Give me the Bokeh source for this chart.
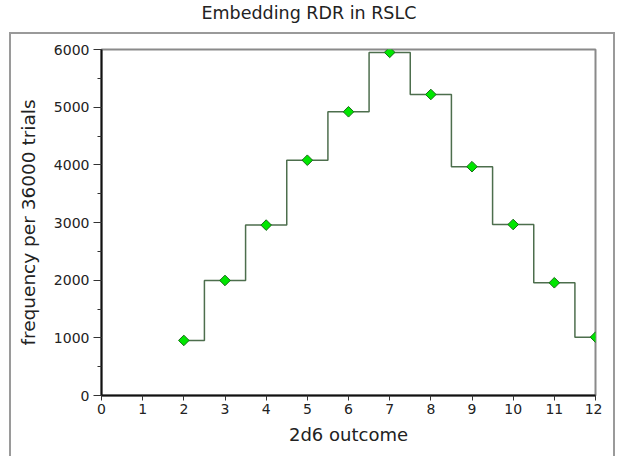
import numpy as np
from bokeh.plotting import figure
from bokeh.models import SingleIntervalTicker, Title, InlineStyleSheet
from bokeh.embed import file_html
from bokeh.resources import INLINE

outcomes = [2, 3, 4, 5, 6, 7, 8, 9, 10, 11, 12]
frequency = [955, 1995, 2955, 4080, 4920, 5950, 5220, 3968, 2965, 1955, 1012]
title_text = "Embedding RDR in RSLC"
x_label = "2d6 outcome"
y_label = "frequency per 36000 trials"

FONT = "DejaVu Sans"

p = figure(width=602, height=448, x_range=(0, 12), y_range=(0, 6000),
           output_backend="svg", toolbar_location=None,
           min_border_left=101, min_border_right=7, min_border_top=49,
           min_border_bottom=53)
p.title = None
spacer = Title(text=" ", text_font_size="1px", standoff=20)
p.add_layout(spacer, "above")
t = Title(text=title_text, align="left", vertical_align="top", text_font=FONT,
          text_font_size="17.5px", text_font_style="normal", text_color="#222222",
          offset=100, standoff=4)
p.add_layout(t, "above")

p.xgrid.visible = False
p.ygrid.visible = False
p.outline_line_color = "#8a8a8a"
p.outline_line_width = 2

p.xaxis.ticker = SingleIntervalTicker(interval=1, num_minor_ticks=0)
p.yaxis.ticker = SingleIntervalTicker(interval=1000, num_minor_ticks=2)

for ax in (p.xaxis[0], p.yaxis[0]):
    ax.axis_line_color = "#111111"
    ax.axis_line_width = 2
    ax.major_tick_line_color = "#333333"
    ax.major_tick_line_width = 1
    ax.minor_tick_line_color = "#333333"
    ax.major_tick_in = 0
    ax.minor_tick_in = 0
    ax.major_label_text_font = FONT
    ax.major_label_text_font_size = "14px"
    ax.major_label_text_color = "#222222"
    ax.axis_label_text_font = FONT
    ax.axis_label_text_font_style = "normal"
    ax.axis_label_text_color = "#222222"

p.xaxis.axis_label = x_label
p.yaxis.axis_label = y_label
p.xaxis.axis_label_text_font_size = "18px"
p.yaxis.axis_label_text_font_size = "18.5px"
p.xaxis.major_tick_out = 5
p.yaxis.major_tick_out = 8
p.yaxis.minor_tick_out = 4
p.xaxis.major_label_standoff = 3
p.yaxis.major_label_standoff = 4
p.xaxis.axis_label_standoff = 7
p.yaxis.axis_label_standoff = 12

p.step(outcomes, frequency, mode="center", line_color="#4d6e4d", line_width=1.5)
p.scatter(outcomes, frequency, marker="square", angle=np.pi / 4, size=7.5,
          fill_color="#00e600", line_color="#1a6b1a", line_width=1)

p.stylesheets = [InlineStyleSheet(css="""
:host::after {
  content: "";
  position: absolute;
  left: 9px;
  top: 32px;
  width: 606px;
  height: 500px;
  border: 2px solid #9a9a9a;
  pointer-events: none;
  box-sizing: border-box;
}
""")]

open("out.html", "w").write(file_html(p, INLINE))
